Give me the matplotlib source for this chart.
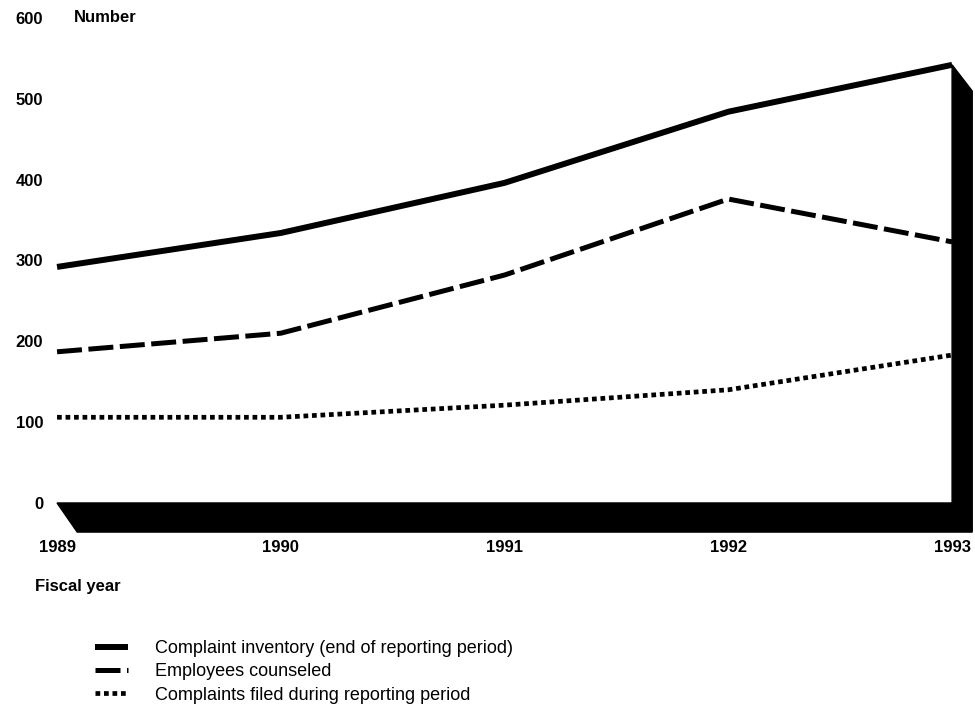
# complaint inventory / counseling / complaints filed, fiscal years 1989-1993
import matplotlib
matplotlib.use("Agg")
from matplotlib import pyplot as plt
from matplotlib.patches import Polygon

plt.rcParams["font.family"] = ["Liberation Sans", "DejaVu Sans"]

years = [1989, 1990, 1991, 1992, 1993]
inventory = [292, 334, 396, 484, 542]
counseled = [187, 210, 282, 376, 323]
filed = [106, 106, 121, 140, 183]
labels = ["Complaint inventory (end of reporting period)",
          "Employees counseled",
          "Complaints filed during reporting period"]
yticks = [0, 100, 200, 300, 400, 500, 600]

fig = plt.figure(figsize=(9.75, 7.21), dpi=100)
ax = fig.add_axes([0.0585, 0.3024, 0.918, 0.6727])
ax.set_xlim(years[0], years[-1])
ax.set_ylim(0, 600)

# fake 3d floor and right wall
dx = 0.09   # depth in years
dy = 36     # depth in units
floor = Polygon([(years[0], 0), (years[-1], 0), (years[-1] + dx, -dy), (years[0] + dx, -dy)],
                closed=True, fc="black", ec="black", clip_on=False)
wall = Polygon([(years[-1], 0), (years[-1], inventory[-1]), (years[-1] + dx, inventory[-1] - dy * 0.9),
                (years[-1] + dx, -dy)], closed=True, fc="black", ec="black", clip_on=False)
ax.add_patch(floor)
ax.add_patch(wall)

l1, = ax.plot(years, inventory, color="black", lw=4.3, solid_capstyle="butt", clip_on=False)
l2, = ax.plot(years, counseled, color="black", lw=3.6, dashes=(5, 1.3), dash_capstyle="butt", clip_on=False)
l3, = ax.plot(years, filed, color="black", lw=3.4, dashes=(1, 0.8), dash_capstyle="butt", clip_on=False)

for s in ax.spines.values():
    s.set_visible(False)
ax.set_yticks(yticks)
ax.set_yticklabels([str(t) for t in yticks], fontsize=12, fontweight="bold")
ax.set_xticks(years)
ax.set_xticklabels([str(y) for y in years], fontsize=12, fontweight="bold")
ax.tick_params(axis="y", length=0, pad=10)
ax.tick_params(axis="x", length=0, pad=27)

fig.text(74 / 975, 1 - 18 / 721, "Number", fontsize=12, fontweight="bold", va="center", ha="left")
fig.text(35 / 975, 1 - 587 / 721, "Fiscal year", fontsize=12, fontweight="bold", va="center", ha="left")

fig.legend([l1, l2, l3], labels, loc="upper left", bbox_to_anchor=(95 / 975, 1 - 640 / 721),
           frameon=False, fontsize=13, handlelength=1.8, handletextpad=1.5, labelspacing=0.35,
           borderaxespad=0, borderpad=0)

fig.savefig("out.png", dpi=100)
